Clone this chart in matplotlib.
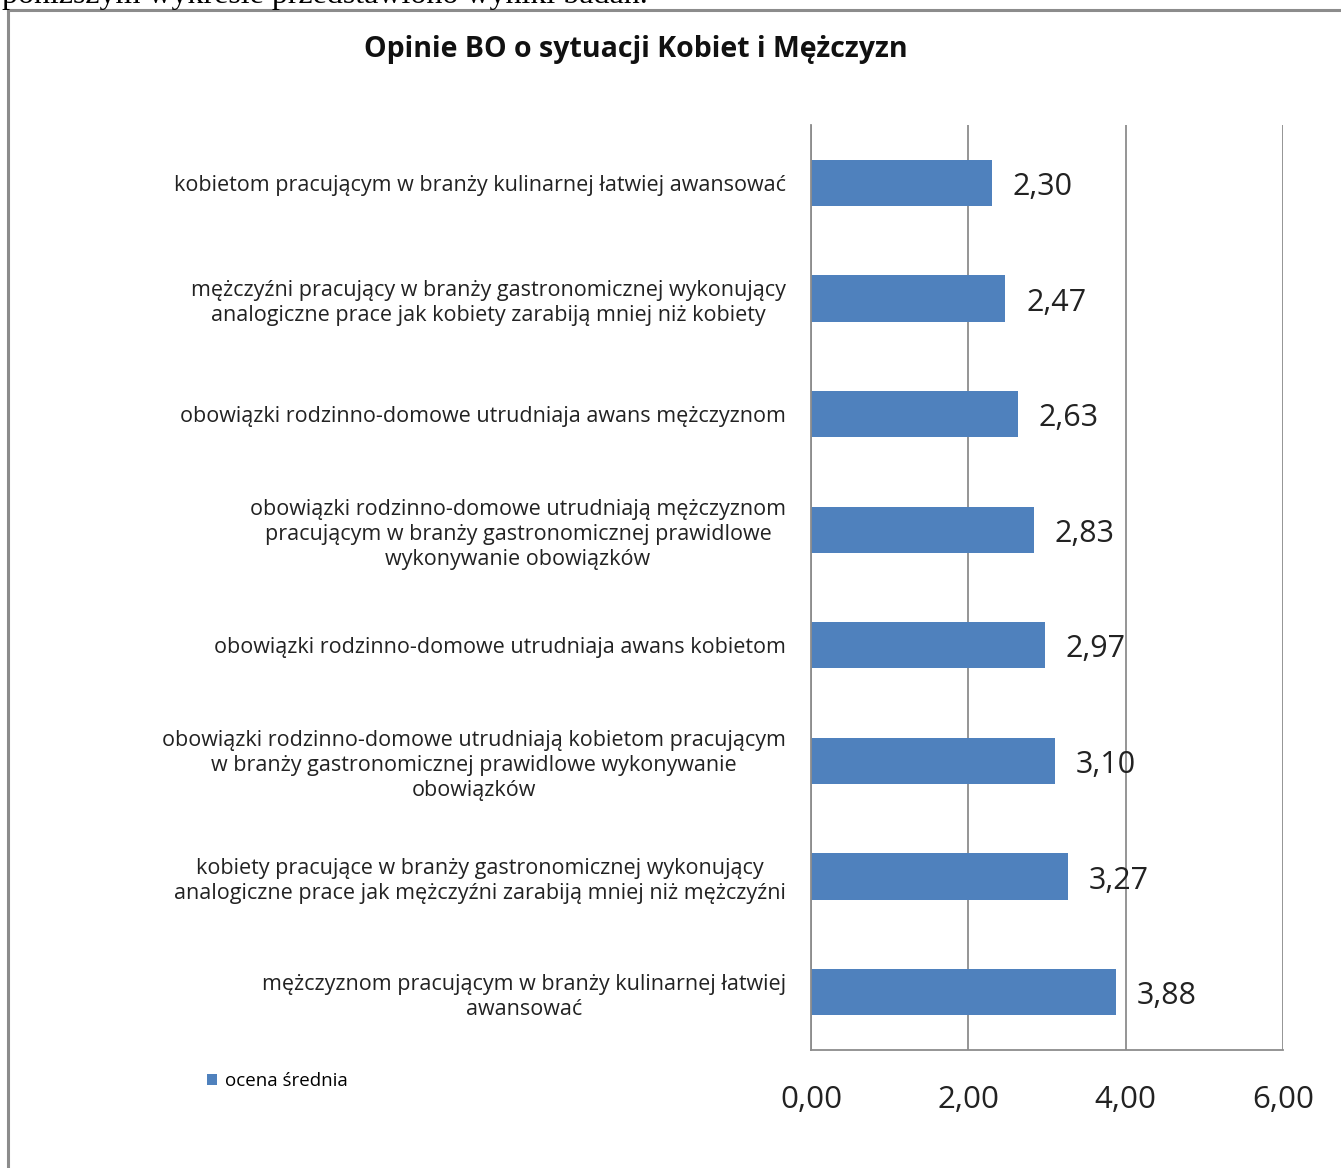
import numpy as np
import matplotlib
matplotlib.use("Agg")
import matplotlib.pyplot as plt
from matplotlib.lines import Line2D

plt.rcParams['font.family'] = ['Open Sans', 'DejaVu Sans']

# dane z wykresu
kategorie = [
    "kobietom pracującym w branży kulinarnej łatwiej awansować",
    "mężczyźni pracujący w branży gastronomicznej wykonujący\nanalogiczne prace jak kobiety zarabiją mniej niż kobiety",
    "obowiązki rodzinno-domowe utrudniaja awans mężczyznom",
    "obowiązki rodzinno-domowe utrudniają mężczyznom\npracującym w branży gastronomicznej prawidlowe\nwykonywanie obowiązków",
    "obowiązki rodzinno-domowe utrudniaja awans kobietom",
    "obowiązki rodzinno-domowe utrudniają kobietom pracującym\nw branży gastronomicznej prawidlowe wykonywanie\nobowiązków",
    "kobiety pracujące w branży gastronomicznej wykonujący\nanalogiczne prace jak mężczyźni zarabiją mniej niż mężczyźni",
    "mężczyznom pracującym w branży kulinarnej łatwiej\nawansować",
]
ocena = [2.30, 2.47, 2.63, 2.83, 2.97, 3.10, 3.27, 3.88]
xticks = [0, 2, 4, 6]

W, H = 1341, 1168
fig = plt.figure(figsize=(W / 100, H / 100), dpi=100)

# ramka wykresu (ucieta z prawej i dolu)
szary = '#8c8c8c'
fig.add_artist(Line2D([8 / W, 8 / W], [0, 1 - 10 / H], color=szary, lw=2.2, transform=fig.transFigure))
fig.add_artist(Line2D([8 / W, 1], [1 - 10 / H, 1 - 10 / H], color=szary, lw=2.2, transform=fig.transFigure))

# ucięty tekst nad wykresem
fig.text(2 / W, 1 - 3 / H, "poniższym wykresie przedstawiono wyniki badań.",
         family='Liberation Serif', fontsize=23, va='baseline', ha='left')

ax = fig.add_axes([811 / W, 1 - 1050 / H, 472 / W, 925 / H])
y = np.arange(len(ocena))
ax.barh(y, ocena, height=0.4, color='#4f81bd', zorder=2, label='ocena średnia')

ax.set_xlim(0, 6)
ax.set_ylim(len(ocena) - 0.5, -0.5)
ax.set_xticks(xticks)
ax.set_xticklabels([("%.2f" % v).replace('.', ',') for v in xticks])
ax.tick_params(axis='x', length=0, pad=25, labelsize=22.5, labelcolor='#222222')
ax.set_yticks(y)
ax.set_yticklabels(kategorie, multialignment='center', linespacing=1.25)
ax.tick_params(axis='y', length=0, pad=18, labelsize=15.5, labelcolor='#222222')

ax.grid(axis='x', color=szary, lw=1.3, zorder=1)
for s in ['top', 'right']:
    ax.spines[s].set_visible(False)
for s in ['left', 'bottom']:
    ax.spines[s].set_color(szary)
    ax.spines[s].set_linewidth(1.3)

for yi, v in zip(y, ocena):
    ax.annotate(("%.2f" % v).replace('.', ','), (v, yi), xytext=(15, -3),
                textcoords='offset points', va='center', ha='left',
                fontsize=22, color='#222222')

fig.text(636 / W, 1 - 50 / H, "Opinie BO o sytuacji Kobiet i Mężczyzn",
         ha='center', va='center', fontsize=20.5, fontweight='bold', color='#111111')

ax.legend(loc='center left', bbox_to_anchor=(207 / W, 1 - 1081 / H),
          bbox_transform=fig.transFigure, frameon=False, fontsize=13.5,
          handlelength=0.55, handleheight=0.55, handletextpad=0.4,
          borderpad=0, borderaxespad=0)

fig.savefig("out.png", dpi=100)
